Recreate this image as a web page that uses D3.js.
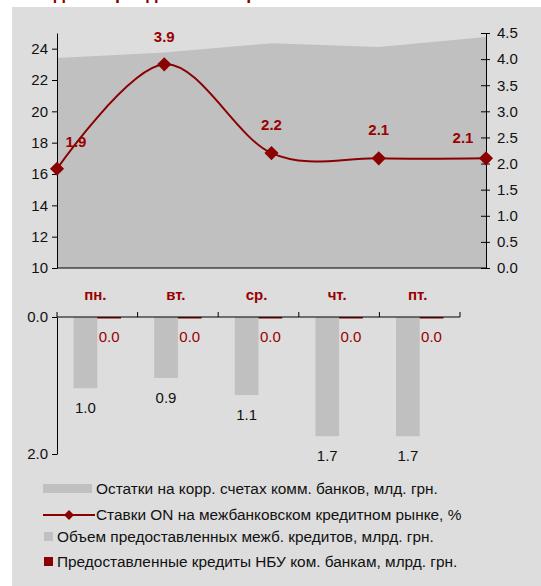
<!DOCTYPE html>
<html>
<head>
<meta charset="utf-8">
<script src="https://cdn.jsdelivr.net/npm/d3@7"></script>
<style>
  body { margin: 0; background: #fff; }
  svg { display: block; font-family: "Liberation Sans", Arial, sans-serif; }
</style>
</head>
<body>
<div id="chart"></div>
<script>
// days of the week
var days = ['пн.', 'вт.', 'ср.', 'чт.', 'пт.'];

// balances on correspondent accounts, bln UAH (left axis)
var balances = [23.4, 23.75, 24.35, 24.1, 24.75];
// overnight interbank rate, % (right axis)
var rates = [1.9, 3.9, 2.2, 2.1, 2.1];
// interbank credits volume, bln UAH
var interbank = [1.04, 0.89, 1.14, 1.74, 1.74];
// NBU credits to commercial banks, bln UAH
var nbu = [0.0, 0.0, 0.0, 0.0, 0.0];

var leftTicks = [10, 12, 14, 16, 18, 20, 22, 24];
var rightTicks = [0, 0.5, 1, 1.5, 2, 2.5, 3, 3.5, 4, 4.5];
var bottomTicks = [0, 2];

var legendLabels = [
  'Остатки на корр. счетах комм. банков, млд. грн.',
  'Ставки ON на межбанковском кредитном рынке, %',
  'Объем предоставленных межб. кредитов, млрд. грн.',
  'Предоставленные кредиты НБУ ком. банкам, млрд. грн.'
];

var RED = '#8b0000', AREA = '#c0c0c0', BG = '#dddddd';
var FS = '15px';

var svg = d3.select('#chart').append('svg')
    .attr('width', 541)
    .attr('height', 586);

svg.append('rect')
    .attr('x', 12).attr('y', 7)
    .attr('width', 529).attr('height', 579)
    .attr('fill', BG);

// title (cut off at the top of the picture)
svg.append('text')
    .attr('x', 30).attr('y', -1)
    .attr('fill', RED)
    .attr('font-weight', 'bold')
    .attr('font-size', '18px')
    .text('Индикаторы денежного рынка');

// ---------- top chart ----------
var x = d3.scalePoint().domain(days).range([57, 486]);
var yL = d3.scaleLinear().domain([10, 25]).range([268, 33]);
var yR = d3.scaleLinear().domain([0, 4.5]).range([268, 33]);

svg.append('path')
    .datum(balances)
    .attr('fill', AREA)
    .attr('d', d3.area()
        .x(function(d, i) { return x(days[i]); })
        .y0(yL(10))
        .y1(function(d) { return yL(d); }));

// left axis
svg.append('g')
    .attr('transform', 'translate(57,0)')
    .call(d3.axisLeft(yL).tickValues(leftTicks).tickSize(5).tickSizeOuter(0).tickPadding(4));

// right axis with crossing ticks
var gR = svg.append('g')
    .attr('transform', 'translate(486,0)')
    .call(d3.axisRight(yR).tickValues(rightTicks).tickSize(4).tickSizeOuter(0)
        .tickPadding(7).tickFormat(d3.format('.1f')));
gR.selectAll('.tick line').attr('x1', -5);

// x axis line
svg.append('line')
    .attr('x1', 57).attr('x2', 486)
    .attr('y1', yL(10)).attr('y2', yL(10))
    .attr('stroke', '#000');

svg.selectAll('.domain').attr('stroke', '#000');
svg.selectAll('.tick text').attr('font-size', FS).attr('fill', '#111')
    .attr('font-family', '"Liberation Sans", Arial, sans-serif');

// rate line
svg.append('path')
    .datum(rates)
    .attr('fill', 'none')
    .attr('stroke', RED)
    .attr('stroke-width', 2)
    .attr('d', d3.line()
        .curve(d3.curveCatmullRom.alpha(0))
        .x(function(d, i) { return x(days[i]); })
        .y(function(d) { return yR(d); }));

svg.selectAll('.marker')
    .data(rates)
    .enter().append('path')
    .attr('class', 'marker')
    .attr('fill', RED)
    .attr('transform', function(d, i) {
        return 'translate(' + x(days[i]) + ',' + yR(d) + ') rotate(45)';
    })
    .attr('d', d3.symbol(d3.symbolSquare).size(100));

var labelDx = [19, 0, 0, 0, -23];
var labelDy = [-22, -22, -23, -23, -15];
svg.selectAll('.rate-label')
    .data(rates)
    .enter().append('text')
    .attr('class', 'rate-label')
    .attr('x', function(d, i) { return x(days[i]) + labelDx[i]; })
    .attr('y', function(d, i) { return yR(d) + labelDy[i]; })
    .attr('text-anchor', 'middle')
    .attr('font-weight', 'bold')
    .attr('font-size', FS)
    .attr('fill', '#990000')
    .text(function(d) { return d3.format('.1f')(d); });

// ---------- bottom chart ----------
var x0 = d3.scaleBand().domain(days).range([57, 460]).padding(0);
var x1 = d3.scaleBand().domain(['interbank', 'nbu']).range([0, x0.bandwidth()])
    .paddingInner(0).paddingOuter(0.7);
var yB = d3.scaleLinear().domain([0, 2]).range([317, 454]);

// category labels
svg.selectAll('.day')
    .data(days)
    .enter().append('text')
    .attr('class', 'day')
    .attr('x', function(d) { return x0(d) + x0.bandwidth() / 2 - 2; })
    .attr('y', 300)
    .attr('text-anchor', 'middle')
    .attr('font-weight', 'bold')
    .attr('font-size', FS)
    .attr('fill', '#990000')
    .text(function(d) { return d; });

svg.selectAll('.bar-ib')
    .data(interbank)
    .enter().append('rect')
    .attr('x', function(d, i) { return x0(days[i]) + x1('interbank'); })
    .attr('y', yB(0))
    .attr('width', x1.bandwidth())
    .attr('height', function(d) { return yB(d) - yB(0); })
    .attr('fill', AREA);

svg.selectAll('.bar-nbu')
    .data(nbu)
    .enter().append('rect')
    .attr('x', function(d, i) { return x0(days[i]) + x1('nbu'); })
    .attr('y', yB(0))
    .attr('width', x1.bandwidth())
    .attr('height', function(d) { return Math.max(1.5, yB(d) - yB(0)); })
    .attr('fill', RED);

// horizontal axis with ticks at band edges
var bAxis = svg.append('g').attr('transform', 'translate(0,' + yB(0) + ')');
bAxis.append('line')
    .attr('x1', 57).attr('x2', 460)
    .attr('stroke', '#000');
bAxis.selectAll('.edge')
    .data(days.map(function(d) { return x0(d); }).concat([460]))
    .enter().append('line')
    .attr('x1', function(d) { return d; }).attr('x2', function(d) { return d; })
    .attr('y1', 0).attr('y2', -5)
    .attr('stroke', '#000');

var gB = svg.append('g')
    .attr('transform', 'translate(57,0)')
    .call(d3.axisLeft(yB).tickValues(bottomTicks).tickSize(5).tickSizeOuter(0)
        .tickPadding(4).tickFormat(d3.format('.1f')));
gB.select('.domain').attr('stroke', '#000');
gB.selectAll('.tick text').attr('font-size', FS).attr('fill', '#111')
    .attr('font-family', '"Liberation Sans", Arial, sans-serif');

svg.selectAll('.lab-ib')
    .data(interbank)
    .enter().append('text')
    .attr('x', function(d, i) { return x0(days[i]) + x1('interbank') + x1.bandwidth() / 2; })
    .attr('y', function(d) { return yB(d) + 25; })
    .attr('text-anchor', 'middle')
    .attr('font-size', FS)
    .attr('fill', '#111')
    .text(function(d) { return d3.format('.1f')(d); });

svg.selectAll('.lab-nbu')
    .data(nbu)
    .enter().append('text')
    .attr('x', function(d, i) { return x0(days[i]) + x1('nbu') + x1.bandwidth() / 2; })
    .attr('y', yB(0) + 25)
    .attr('text-anchor', 'middle')
    .attr('font-size', FS)
    .attr('fill', '#990000')
    .text(function(d) { return d3.format('.1f')(d); });

// ---------- legend ----------
var lg = svg.append('g').attr('font-size', '15.4px').attr('fill', '#111');

lg.append('rect').attr('x', 43).attr('y', 484).attr('width', 49).attr('height', 9).attr('fill', AREA);
lg.append('text').attr('x', 96).attr('y', 494).text(legendLabels[0]);

lg.append('line').attr('x1', 43).attr('x2', 95).attr('y1', 515).attr('y2', 515)
    .attr('stroke', RED).attr('stroke-width', 2);
lg.append('path').attr('transform', 'translate(69,515) rotate(45)')
    .attr('d', d3.symbol(d3.symbolSquare).size(50)).attr('fill', RED);
lg.append('text').attr('x', 96).attr('y', 520).text(legendLabels[1]);

lg.append('rect').attr('x', 44).attr('y', 532).attr('width', 9).attr('height', 9).attr('fill', AREA);
lg.append('text').attr('x', 57).attr('y', 542).text(legendLabels[2]);

lg.append('rect').attr('x', 44).attr('y', 557).attr('width', 9).attr('height', 9).attr('fill', RED);
lg.append('text').attr('x', 57).attr('y', 567).text(legendLabels[3]);
</script>
</body>
</html>
